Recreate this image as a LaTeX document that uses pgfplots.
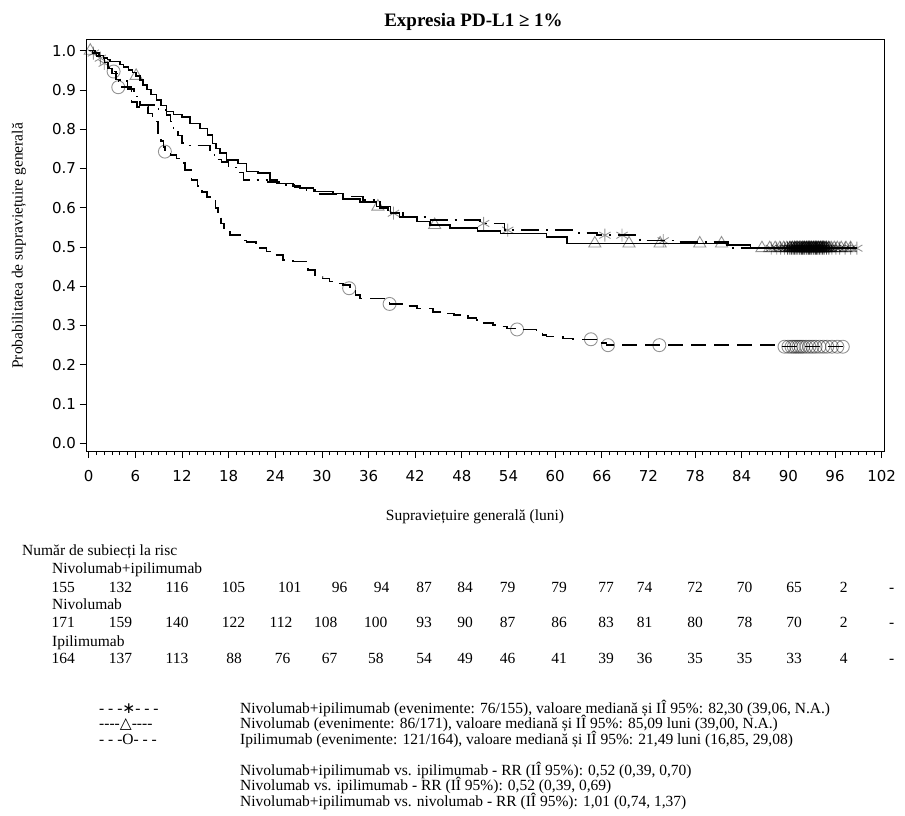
\documentclass[border=0pt]{standalone}
\usepackage{fontspec}
\setmainfont{Liberation Serif}
\newfontfamily\ticksans{DejaVu Sans}
\newfontfamily\symfont{DejaVu Sans}
\usepackage{pgfplots}
\pgfplotsset{compat=1.18}

\newcommand\txt{\fontsize{15.5}{17.7}\selectfont}
\tikzset{censor/.style={draw=black, draw opacity=0.42, line width=0.9pt, fill=none},
         censordense/.style={draw=black, draw opacity=0.7, line width=0.9pt, fill=none}}

\begin{document}
\begin{tikzpicture}
\path[use as bounding box] (0pt,0pt) rectangle (905pt,-816pt);
\begin{axis}[
  at={(86pt,-40pt)}, anchor=north west,
  scale only axis, width=798pt, height=411.7pt,
  xmin=-0.35, xmax=102.3, ymin=-0.0214, ymax=1.0273,
  xtick={0,6,12,18,24,30,36,42,48,54,60,66,72,78,84,90,96,102},
  minor x tick num=5,
  ytick={0,0.1,0.2,0.3,0.4,0.5,0.6,0.7,0.8,0.9,1.0},
  tick pos=left, tick align=outside,
  major tick length=6.5pt, minor tick length=3.3pt,
  every tick/.style={black, line width=0.8pt},
  axis line style={line width=1pt},
  /pgf/number format/assume math mode=true,
  ticklabel style={font=\ticksans\fontsize{15}{17}\selectfont},
  yticklabel style={/pgf/number format/.cd, fixed, fixed zerofill, precision=1},
  xticklabel style={yshift=-9pt},
  clip=false,
]
% Nivolumab: solid step curve
\addplot[const plot, black, line width=1.5pt] table {
0 1.000
0.8 0.994
1.3 0.988
1.9 0.982
2.4 0.977
2.75 0.972
4.0 0.965
4.5 0.959
5.1 0.951
5.6 0.945
6.1 0.936
6.6 0.925
7.0 0.913
7.5 0.901
8.0 0.889
8.75 0.874
9.3 0.860
10.0 0.845
10.9 0.837
12.0 0.831
13.0 0.815
14.3 0.802
15.3 0.785
15.9 0.764
16.4 0.751
16.9 0.739
17.7 0.722
19.2 0.713
20.3 0.692
21.8 0.688
23.3 0.671
24.2 0.662
26.3 0.656
27.2 0.650
28.9 0.641
31.4 0.636
32.7 0.622
34.9 0.615
37.0 0.603
38.8 0.586
40.0 0.577
42.2 0.565
43.9 0.556
46.5 0.548
50.0 0.541
53.0 0.535
58.9 0.526
61.5 0.509
82.1 0.505
85.1 0.497
98.0 0.497
};
% Nivolumab + ipilimumab: dash-dot step curve
\addplot[const plot, black, line width=1.5pt, dash pattern=on 18pt off 7pt on 2pt off 7pt] table {
0 1.000
0.5 0.994
1.0 0.987
1.5 0.981
2.0 0.968
2.5 0.955
3.0 0.942
4.0 0.923
5.0 0.903
5.8 0.884
6.6 0.862
9.0 0.849
10.0 0.836
10.5 0.820
10.9 0.802
11.5 0.784
12.0 0.765
12.6 0.758
15.6 0.742
16.2 0.723
17.1 0.717
18.0 0.703
19.0 0.690
19.9 0.671
23.0 0.665
24.5 0.658
26.5 0.652
28.0 0.645
29.4 0.635
32.0 0.629
35.3 0.620
37.5 0.600
38.5 0.590
39.2 0.586
40.4 0.577
43.7 0.569
50.3 0.560
53.5 0.543
63.0 0.536
65.4 0.530
70.9 0.516
75.6 0.513
82.3 0.497
98.8 0.497
};
% Ipilimumab: dashed step curve
\addplot[const plot, black, line width=1.5pt, dash pattern=on 15pt off 8pt] table {
0 1.000
0.5 0.994
1.0 0.988
1.5 0.982
2.0 0.970
2.5 0.957
3.0 0.947
3.5 0.927
3.8 0.907
5.5 0.870
6.2 0.857
7.6 0.840
8.2 0.820
8.9 0.790
9.3 0.770
9.6 0.755
9.8 0.743
10.5 0.735
11.3 0.725
12.0 0.714
12.4 0.696
13.2 0.671
14.0 0.655
14.6 0.640
15.2 0.628
16.3 0.600
16.6 0.580
17.0 0.560
17.4 0.543
18.2 0.530
19.5 0.517
20.3 0.513
21.5 0.497
22.9 0.488
23.5 0.480
25.0 0.467
26.3 0.463
28.2 0.441
29.1 0.424
30.1 0.420
31.0 0.412
31.9 0.407
32.7 0.403
33.6 0.395
34.3 0.378
34.9 0.369
38.0 0.362
38.7 0.355
40.9 0.350
42.2 0.344
44.3 0.335
46.0 0.331
47.0 0.327
48.8 0.319
49.9 0.314
50.7 0.306
52.0 0.301
52.9 0.297
53.8 0.293
55.1 0.290
57.6 0.284
58.4 0.276
58.9 0.272
61.0 0.267
62.3 0.265
65.8 0.255
66.6 0.250
89.0 0.246
97.3 0.246
};
% censored subjects
\addplot[only marks, mark=triangle, mark size=7pt, mark options={censor}] table {
0.2 1.000
6.1 0.936
37.2 0.603
44.5 0.556
65.1 0.509
69.5 0.509
73.5 0.509
78.6 0.509
81.4 0.509
86.6 0.497
87.6 0.497
88.3 0.497
88.9 0.497
89.4 0.497
89.8 0.497
95.5 0.497
95.9 0.497
96.3 0.497
96.8 0.497
97.4 0.497
98.0 0.497
};
\addplot[only marks, mark=triangle, mark size=7pt, mark options={censordense}] table {
90.2 0.497
90.5 0.497
90.8 0.497
91.0 0.497
91.2 0.497
91.4 0.497
91.6 0.497
91.8 0.497
92.0 0.497
92.1 0.497
92.3 0.497
92.4 0.497
92.6 0.497
92.7 0.497
92.9 0.497
93.0 0.497
93.2 0.497
93.3 0.497
93.5 0.497
93.6 0.497
93.8 0.497
93.9 0.497
94.1 0.497
94.2 0.497
94.4 0.497
94.5 0.497
94.7 0.497
94.9 0.497
95.2 0.497
};
\addplot[only marks, mark=asterisk, mark size=6.5pt, mark options={censor}] table {
0.6 0.994
1.5 0.981
2.0 0.968
39.2 0.586
50.8 0.560
53.9 0.543
66.4 0.530
68.6 0.530
73.9 0.516
87.8 0.497
88.5 0.497
89.0 0.497
89.5 0.497
95.6 0.497
96.1 0.497
96.6 0.497
97.3 0.497
98.0 0.497
98.8 0.497
};
\addplot[only marks, mark=asterisk, mark size=6.5pt, mark options={censordense}] table {
89.9 0.497
90.2 0.497
90.4 0.497
90.6 0.497
90.8 0.497
91.0 0.497
91.2 0.497
91.4 0.497
91.5 0.497
91.7 0.497
91.8 0.497
92.0 0.497
92.1 0.497
92.3 0.497
92.4 0.497
92.6 0.497
92.7 0.497
92.9 0.497
93.0 0.497
93.2 0.497
93.3 0.497
93.5 0.497
93.6 0.497
93.8 0.497
94.0 0.497
94.2 0.497
94.4 0.497
94.6 0.497
94.9 0.497
95.2 0.497
};
\addplot[only marks, mark=o, mark size=6.5pt, mark options={censor}] table {
3.2 0.947
3.8 0.907
9.8 0.743
33.5 0.395
38.7 0.355
55.1 0.290
64.6 0.265
66.8 0.250
73.4 0.250
89.5 0.246
90.0 0.246
90.4 0.246
90.7 0.246
91.0 0.246
91.3 0.246
91.6 0.246
91.9 0.246
92.3 0.246
92.7 0.246
93.1 0.246
93.5 0.246
94.0 0.246
94.5 0.246
95.0 0.246
95.6 0.246
96.3 0.246
97.0 0.246
};
\end{axis}

% title and axis titles
\node[font=\bfseries\fontsize{19}{22}\selectfont] at (473.5pt,-22pt) {Expresia PD-L1 ≥ 1\%};
\node[rotate=90, font=\txt] at (19pt,-245.9pt) {Probabilitatea de supraviețuire generală};
\node[font=\txt] at (475pt,-517pt) {Supraviețuire generală (luni)};

% numbers at risk
\node[anchor=base west, font=\txt, inner sep=0pt] at (22pt,-555pt) {Număr de subiecți la risc};
\node[anchor=base west, font=\txt, inner sep=0pt] at (52pt,-573pt) {Nivolumab+ipilimumab};
\node[anchor=base west, font=\txt, inner sep=0pt] at (52pt,-609pt) {Nivolumab};
\node[anchor=base west, font=\txt, inner sep=0pt] at (52pt,-646pt) {Ipilimumab};
\foreach \x/\v in {63.3/155,120.5/132,177/116,233.5/105,289.7/101,339.5/96,381.7/94,424/87,465/84,507.5/79,559/79,606/77,644.7/74,695/72,744.7/70,794/65,843.7/2,891.7/-}
  \node[anchor=base, font=\txt, inner sep=0pt] at (\x pt,-592pt) {\v};
\foreach \x/\v in {63.3/171,120.5/159,177/140,233.5/122,281/112,325.8/108,375.7/100,424/93,465/90,507.5/87,559/86,606/83,644.7/81,695/80,744.7/78,794/70,843.7/2,891.7/-}
  \node[anchor=base, font=\txt, inner sep=0pt] at (\x pt,-627pt) {\v};
\foreach \x/\v in {63.3/164,120.5/137,177/113,234/88,282.5/76,329.5/67,375.8/58,424/54,465/49,507.5/46,559/41,606/39,644.7/36,695/35,744.7/35,794/33,843.7/4,891.7/-}
  \node[anchor=base, font=\txt, inner sep=0pt] at (\x pt,-663pt) {\v};

% key and hazard ratios
\node[anchor=base west, font=\txt, inner sep=0pt] at (99pt,-713pt) {- - -{\symfont ∗}- - -};
\node[anchor=base west, font=\txt, inner sep=0pt] at (99pt,-728.5pt) {{-}{-}{-}{-}{\symfont △}{-}{-}{-}{-}};
\node[anchor=base west, font=\txt, inner sep=0pt] at (99pt,-744pt) {- - -O- - -};
\node[anchor=base west, font=\txt, inner sep=0pt] at (240pt,-713pt) {Nivolumab+ipilimumab (evenimente: 76/155), valoare mediană și IÎ 95\%: 82,30 (39,06, N.A.)};
\node[anchor=base west, font=\txt, inner sep=0pt] at (240pt,-728.5pt) {Nivolumab (evenimente: 86/171), valoare mediană și IÎ 95\%: 85,09 luni (39,00, N.A.)};
\node[anchor=base west, font=\txt, inner sep=0pt] at (240pt,-744pt) {Ipilimumab (evenimente: 121/164), valoare mediană și IÎ 95\%: 21,49 luni (16,85, 29,08)};
\node[anchor=base west, font=\txt, inner sep=0pt] at (240pt,-775pt) {Nivolumab+ipilimumab vs. ipilimumab - RR (IÎ 95\%): 0,52 (0,39, 0,70)};
\node[anchor=base west, font=\txt, inner sep=0pt] at (240pt,-790.5pt) {Nivolumab vs. ipilimumab - RR (IÎ 95\%): 0,52 (0,39, 0,69)};
\node[anchor=base west, font=\txt, inner sep=0pt] at (240pt,-806pt) {Nivolumab+ipilimumab vs. nivolumab - RR (IÎ 95\%): 1,01 (0,74, 1,37)};
\end{tikzpicture}
\end{document}
